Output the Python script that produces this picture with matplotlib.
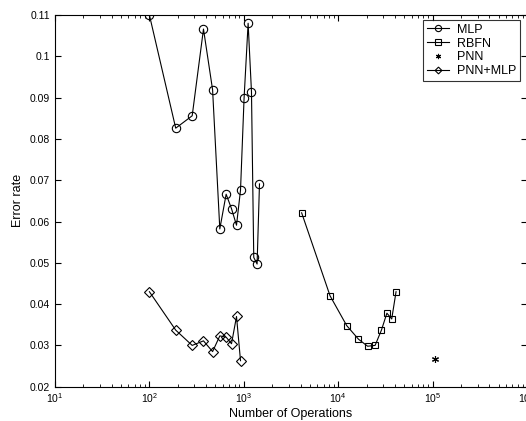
import numpy as np
import matplotlib
matplotlib.use("Agg")
import matplotlib.pyplot as plt
from matplotlib.ticker import FormatStrFormatter

plt.rcParams['font.family'] = ['Liberation Sans', 'DejaVu Sans']

# MLP
mlp_ops = [100, 190, 284, 374, 467, 557, 650, 741, 837, 923, 1007, 1111, 1206, 1275, 1383, 1466]
mlp_err = [0.1100, 0.0826, 0.0856, 0.1066, 0.0919, 0.0582, 0.0666, 0.0631, 0.0591, 0.0676,
           0.0899, 0.1080, 0.0914, 0.0513, 0.0497, 0.0691]

# RBFN
rbfn_ops = [4100, 8200, 12300, 16400, 20500, 24600, 28700, 32800, 36900, 41000]
rbfn_err = [0.0621, 0.0420, 0.0348, 0.0315, 0.0298, 0.0300, 0.0337, 0.0378, 0.0364, 0.0430]

# PNN
pnn_ops = [105000]
pnn_err = [0.0267]

# PNN+MLP
pm_ops = [100, 190, 284, 374, 467, 557, 650, 741, 837, 923]
pm_err = [0.0430, 0.0337, 0.0300, 0.0311, 0.0285, 0.0323, 0.0320, 0.0304, 0.0370, 0.0263]

fig = plt.figure(figsize=(5.26, 4.21), dpi=100)
ax = fig.add_axes([55 / 526, 34.3 / 421, 472 / 526, 371.7 / 421])

mk = dict(color='black', lw=0.8, markerfacecolor='none', markeredgecolor='black',
          markeredgewidth=0.8)
ax.plot(mlp_ops, mlp_err, marker='o', markersize=6, label='MLP', **mk)
ax.plot(rbfn_ops, rbfn_err, marker='s', markersize=5, label='RBFN', **mk)
ax.plot(pnn_ops, pnn_err, marker=(6, 2, 0), markersize=5, linestyle='none', label='PNN', **mk)
ax.plot(pm_ops, pm_err, marker='D', markersize=4.6, label='PNN+MLP', **mk)

ax.set_xscale('log')
ax.set_xlim(10, 1e6)
ax.set_ylim(0.02, 0.11)
ax.set_yticks(np.arange(0.02, 0.1101, 0.01))
ax.yaxis.set_major_formatter(FormatStrFormatter('%g'))

ax.tick_params(which='both', direction='in', top=True, right=True, labelsize=7.5)
ax.tick_params(which='major', length=4, width=0.8)
ax.tick_params(which='minor', length=2, width=0.6)
for s in ax.spines.values():
    s.set_linewidth(0.8)

ax.set_xlabel('Number of Operations', fontsize=9, labelpad=2)
ax.set_ylabel('Error rate', fontsize=9, labelpad=4)

leg = ax.legend(loc='upper right', fontsize=9, frameon=True, fancybox=False,
                edgecolor='black', borderaxespad=0.4, handlelength=1.8,
                labelspacing=0.15, borderpad=0.3, handletextpad=0.6,
                markerscale=0.75, bbox_to_anchor=(0.995, 1.0))
leg.get_frame().set_linewidth(0.8)

fig.savefig('out.png', dpi=100)
